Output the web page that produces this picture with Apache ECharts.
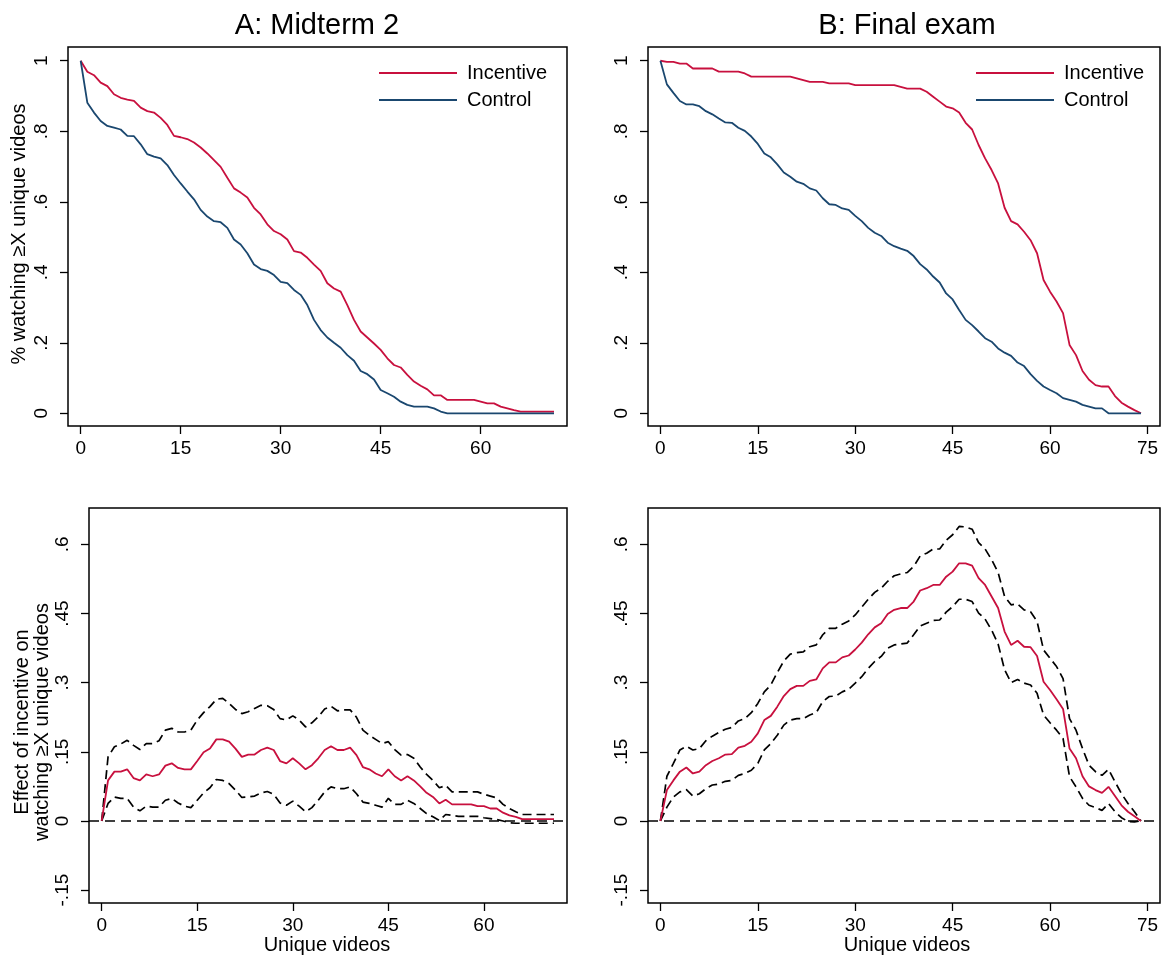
<!DOCTYPE html>
<html>
<head>
<meta charset="utf-8">
<script src="https://cdn.jsdelivr.net/npm/echarts@6/dist/echarts.min.js"></script>
<style>
html,body{margin:0;padding:0;background:#fff;}
#chart{width:1170px;height:959px;}
</style>
</head>
<body>
<div id="chart"></div>
<script>
// ---------- DATA ----------
const panelTitles = ['A: Midterm 2', 'B: Final exam'];
const xTitle = 'Unique videos';
const yTitleTop = '% watching \u2265X unique videos';
const yTitleBottom = ['Effect of incentive on', 'watching \u2265X unique videos'];
const seriesNames = ['Incentive', 'Control'];
const xTicksMid = [0, 15, 30, 45, 60];
const xTicksFinal = [0, 15, 30, 45, 60, 75];
const yTicksTop = [0, 0.2, 0.4, 0.6, 0.8, 1];
const yTicksBottom = [-0.15, 0, 0.15, 0.3, 0.45, 0.6];

// Midterm 2: share watching >= X unique videos (X = 0..71)
const midIncentive = [1.0,.969,.959,.938,.928,.905,.895,.890,.886,.867,
  .857,.853,.838,.818,.787,.783,.778,.768,.754,.737,
  .718,.699,.668,.638,.626,.612,.583,.564,.536,.517,
  .508,.493,.460,.456,.441,.422,.404,.369,.354,.345,
  .307,.265,.232,.215,.198,.180,.156,.137,.130,.109,
  .090,.078,.068,.051,.051,.038,.038,.038,.038,.038,
  .033,.028,.028,.019,.014,.009,.005,.005,.005,.005,
  .005,.005];
const midControl = [1.0,.881,.853,.829,.815,.810,.805,.787,.786,.763,
  .735,.728,.723,.704,.676,.652,.629,.607,.577,.558,
  .545,.542,.526,.493,.479,.454,.422,.409,.404,.392,
  .373,.369,.350,.336,.307,.265,.236,.215,.200,.186,
  .165,.149,.120,.111,.096,.066,.057,.047,.033,.024,
  .019,.019,.019,.014,.005,0,0,0,0,0,
  0,0,0,0,0,0,0,0,0,0,
  0,0];
// Midterm 2: effect of incentive and 95% CI
const midEffect = [0,.088,.107,.107,.112,.093,.088,.101,.097,.101,
  .120,.125,.115,.112,.112,.130,.149,.157,.177,.177,
  .172,.157,.139,.144,.144,.154,.159,.154,.130,.125,
  .136,.125,.112,.121,.136,.154,.162,.154,.154,.159,
  .143,.117,.112,.103,.097,.112,.097,.088,.097,.088,
  .075,.061,.052,.038,.046,.036,.036,.036,.036,.032,
  .032,.027,.027,.018,.012,.009,.004,.004,.004,.004,
  .004,.004];
const midUpper = [0,.139,.161,.167,.175,.164,.155,.168,.168,.174,
  .197,.201,.193,.193,.197,.219,.235,.248,.264,.266,
  .255,.242,.233,.237,.244,.251,.250,.242,.222,.219,
  .228,.219,.204,.213,.226,.243,.249,.239,.241,.241,
  .225,.197,.186,.177,.168,.172,.155,.143,.144,.136,
  .117,.101,.088,.072,.077,.063,.063,.063,.063,.063,
  .058,.054,.050,.036,.027,.020,.014,.014,.014,.014,
  .014,.014];
const midLower = [0,.038,.052,.049,.049,.030,.022,.032,.030,.030,
  .045,.049,.039,.032,.029,.045,.061,.072,.090,.088,
  .081,.067,.051,.052,.054,.061,.064,.058,.039,.034,
  .043,.032,.020,.029,.045,.063,.074,.070,.070,.074,
  .059,.041,.038,.034,.030,.049,.036,.036,.045,.038,
  .027,.016,.009,.001,.014,.012,.010,.010,.010,.010,
  .007,.005,.003,0,-.004,-.005,-.005,-.005,-.005,-.005,
  -.005,-.005];

// Final exam: share watching >= X unique videos (X = 0..74)
const finIncentive = [1.0,.997,.997,.992,.992,.978,.978,.978,.978,.969,
  .969,.969,.969,.964,.955,.955,.955,.955,.955,.955,
  .955,.950,.945,.940,.940,.940,.936,.936,.936,.936,
  .931,.931,.931,.931,.931,.931,.931,.926,.921,.921,
  .921,.912,.898,.884,.870,.865,.853,.824,.805,.761,
  .723,.690,.652,.583,.545,.536,.515,.491,.454,.378,
  .345,.317,.284,.194,.165,.120,.095,.080,.076,.076,
  .049,.030,.019,.009,0];
const finControl = [1.0,.933,.909,.886,.876,.876,.871,.857,.848,.836,
  .825,.824,.810,.801,.785,.764,.737,.726,.706,.683,
  .671,.657,.651,.638,.632,.610,.593,.591,.581,.577,
  .560,.545,.526,.512,.503,.484,.474,.467,.461,.446,
  .423,.408,.388,.371,.340,.323,.293,.265,.250,.232,
  .213,.203,.184,.172,.163,.144,.134,.111,.092,.076,
  .066,.057,.043,.038,.033,.024,.019,.014,.014,0,
  0,0,0,0,0];
const finEffect = [0,.067,.088,.107,.116,.103,.107,.121,.130,.136,
  .144,.145,.159,.163,.172,.190,.219,.228,.248,.271,
  .286,.293,.293,.304,.307,.331,.344,.344,.355,.359,
  .372,.387,.405,.420,.429,.449,.458,.462,.462,.476,
  .500,.505,.512,.512,.530,.541,.559,.559,.554,.527,
  .512,.487,.462,.411,.382,.391,.378,.377,.358,.302,
  .284,.264,.243,.157,.136,.097,.075,.067,.061,.074,
  .054,.034,.020,.010,0];
const finUpper = [0,.097,.125,.154,.162,.154,.157,.174,.184,.192,
  .199,.203,.217,.222,.235,.255,.280,.295,.322,.347,
  .362,.365,.367,.378,.382,.404,.418,.418,.427,.434,
  .447,.464,.481,.496,.505,.520,.532,.536,.539,.552,
  .575,.581,.590,.590,.609,.621,.639,.638,.633,.604,
  .590,.567,.539,.487,.469,.471,.458,.454,.433,.371,
  .353,.335,.309,.222,.197,.157,.121,.107,.099,.112,
  .085,.059,.038,.020,0];
const finLower = [0,.030,.052,.063,.068,.054,.059,.070,.078,.080,
  .086,.088,.099,.103,.110,.125,.154,.168,.186,.208,
  .219,.222,.222,.230,.235,.259,.270,.271,.280,.286,
  .299,.313,.331,.346,.357,.375,.382,.384,.386,.404,
  .423,.429,.435,.436,.453,.465,.481,.481,.476,.451,
  .438,.414,.384,.328,.300,.307,.299,.295,.277,.230,
  .213,.197,.179,.096,.074,.049,.034,.029,.023,.038,
  .020,.007,-.001,-.002,0];

// ---------- CHART ----------
const FONT = "'Liberation Sans', Arial, sans-serif";
const RED = '#c8103e';
const NAVY = '#1a476f';
const pairs = arr => arr.map((v, i) => [i, v]);
const fmt = v => (v === 0 ? '0' : String(v).replace('0.', '.'));

const grids = [
  {left: 68, top: 47, width: 499, height: 379},
  {left: 648, top: 47, width: 512, height: 379},
  {left: 89, top: 508, width: 478, height: 395},
  {left: 648, top: 508, width: 512, height: 395}
].map(g => Object.assign(g, {show: true, borderColor: '#000', borderWidth: 1.5, backgroundColor: '#fff'}));

function xAx(idx, min, max, ticks) {
  return {
    type: 'value', gridIndex: idx, min: min, max: max,
    splitLine: {show: false}, axisLine: {show: false, onZero: false},
    axisTick: {show: true, inside: false, length: 8, lineStyle: {color: '#000', width: 1.3}, customValues: ticks},
    axisLabel: {color: '#000', fontSize: 19, fontFamily: FONT, margin: 13, customValues: ticks, formatter: fmt}
  };
}
function yAx(idx, min, max, ticks) {
  return {
    type: 'value', gridIndex: idx, min: min, max: max,
    splitLine: {show: false}, axisLine: {show: false, onZero: false},
    axisTick: {show: true, inside: false, length: 8, lineStyle: {color: '#000', width: 1.3}, customValues: ticks},
    axisLabel: {color: '#000', fontSize: 19, fontFamily: FONT, margin: 17, rotate: 90, customValues: ticks, formatter: fmt}
  };
}

function line(name, data, xi, color, dashed) {
  return {
    type: 'line', name: name, xAxisIndex: xi, yAxisIndex: xi, data: data,
    showSymbol: false, symbol: 'none', smooth: false, silent: true,
    lineStyle: {color: color, width: dashed ? 1.7 : 1.8, type: dashed ? [9, 5] : 'solid'},
    itemStyle: {color: color}, z: dashed ? 2 : 3
  };
}
function zeroLine(xi) {
  return {
    type: 'line', name: 'zero', xAxisIndex: xi, yAxisIndex: xi, data: [],
    markLine: {silent: true, symbol: 'none', label: {show: false},
      lineStyle: {color: '#000', width: 1.7, type: [10, 6]}, data: [{yAxis: 0}]}
  };
}

const textStyle = (s, extra) => Object.assign({text: s, fill: '#000', font: '20px ' + FONT, textAlign: 'center', textVerticalAlign: 'middle'}, extra || {});
const legendCfg = left => ({
  data: seriesNames, orient: 'vertical', left: left, top: 63, padding: 0, icon: 'rect',
  itemWidth: 78, itemHeight: 2, itemGap: 7, selectedMode: false,
  textStyle: {color: '#000', fontSize: 20, fontFamily: FONT, lineHeight: 20, padding: [0, 0, 0, 5]}
});

const option = {
  animation: false,
  backgroundColor: '#fff',
  grid: grids,
  xAxis: [xAx(0, -1.9, 72.95, xTicksMid), xAx(1, -1.91, 76.93, xTicksFinal),
          xAx(2, -1.99, 73.04, xTicksMid), xAx(3, -1.91, 76.93, xTicksFinal)],
  yAxis: [yAx(0, -0.036, 1.039, yTicksTop), yAx(1, -0.036, 1.039, yTicksTop),
          yAx(2, -0.178, 0.679, yTicksBottom), yAx(3, -0.178, 0.679, yTicksBottom)],
  legend: [legendCfg(379), legendCfg(976)],
  series: [
    line(seriesNames[0], pairs(midIncentive), 0, RED),
    line(seriesNames[1], pairs(midControl), 0, NAVY),
    line(seriesNames[0], pairs(finIncentive), 1, RED),
    line(seriesNames[1], pairs(finControl), 1, NAVY),
    zeroLine(2),
    line('Upper CI A', pairs(midUpper), 2, '#000', true),
    line('Lower CI A', pairs(midLower), 2, '#000', true),
    line('Effect A', pairs(midEffect), 2, RED),
    zeroLine(3),
    line('Upper CI B', pairs(finUpper), 3, '#000', true),
    line('Lower CI B', pairs(finLower), 3, '#000', true),
    line('Effect B', pairs(finEffect), 3, RED)
  ],
  graphic: [
    {type: 'text', x: 317, y: 26, style: textStyle(panelTitles[0], {font: '29px ' + FONT})},
    {type: 'text', x: 907, y: 26, style: textStyle(panelTitles[1], {font: '29px ' + FONT})},
    {type: 'text', x: 327, y: 945, style: textStyle(xTitle)},
    {type: 'text', x: 907, y: 945, style: textStyle(xTitle)},
    {type: 'text', x: 19, y: 234, rotation: Math.PI / 2, style: textStyle(yTitleTop)},
    {type: 'text', x: 22, y: 722, rotation: Math.PI / 2, style: textStyle(yTitleBottom[0])},
    {type: 'text', x: 42, y: 722, rotation: Math.PI / 2, style: textStyle(yTitleBottom[1])}
  ]
};

const chart = echarts.init(document.getElementById('chart'), null, {renderer: 'canvas'});
chart.setOption(option);
</script>
</body>
</html>
